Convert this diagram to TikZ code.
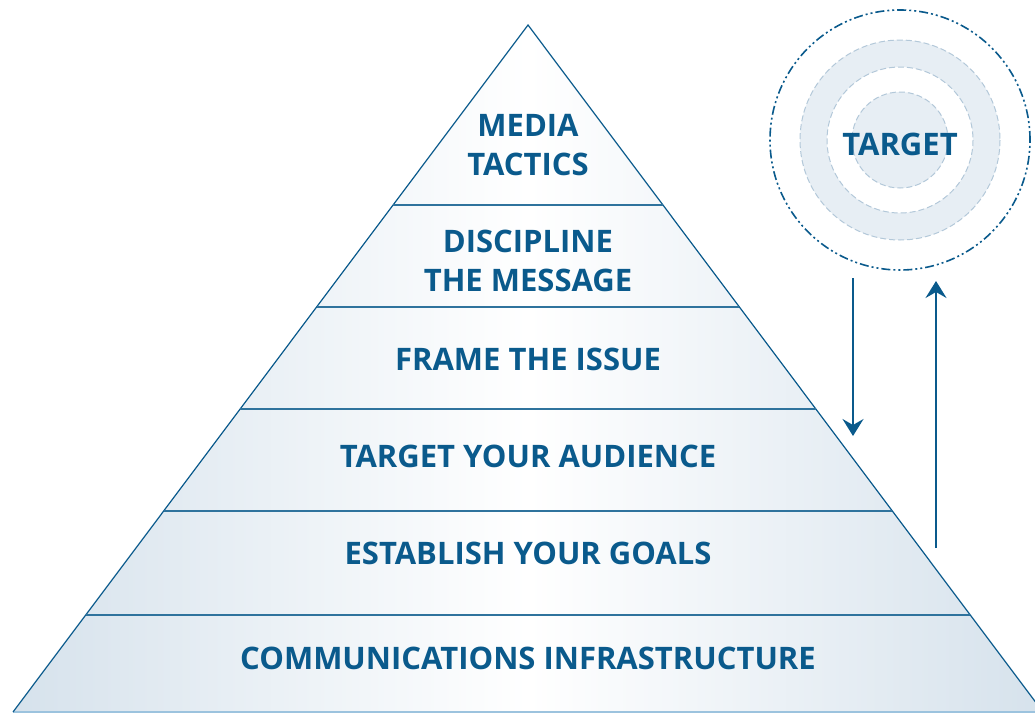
\documentclass[tikz,border=0pt]{standalone}
\usepackage{fontspec}
\setmainfont{Open Sans}
\usetikzlibrary{positioning}
\usetikzlibrary{calc}
\usetikzlibrary{arrows.meta}
\definecolor{tierblue}{HTML}{0A5A8C}
\definecolor{tierfill}{HTML}{D6E2EC}
\definecolor{ringfill}{HTML}{E7EEF4}
\definecolor{ringedge}{HTML}{B3C8D9}
\definecolor{footline}{HTML}{9CC3DE}
\tikzset{
    % Bold capitals used for every label
    tier label/.style={font=\bfseries\fontsize{31}{38.5}\selectfont,
        text=tierblue, align=center, inner sep=0pt},
%
    % The thin outline of the pyramid
    pyramid edge/.style={draw=tierblue, line width=1.2pt, line join=miter},
%
    % Separator between two tiers
    tier line/.style={draw=tierblue!85, line width=2pt},
%
    % Dash-dot outline of the target
    target edge/.style={draw=tierblue, line width=1.6pt,
        dash pattern=on 9pt off 3pt on 2pt off 3pt on 2pt off 3pt},
%
    % Soft dashed rings inside the target
    ring edge/.style={draw=ringedge, line width=1pt,
        dash pattern=on 6pt off 3pt},
%
    % Feedback arrows, with a broad stealth head
    flow/.style={draw=tierblue, line width=2pt,
        -{Stealth[length=17pt, width=21pt, inset=6pt]}}}

\begin{document}
\begin{tikzpicture}[x=1pt, y=-1pt]

\useasboundingbox (0,0) rectangle (1035,715);
\clip (0,0) rectangle (1035,715);

\coordinate (apex) at (528,25);
\coordinate (bl) at (13,712);
\coordinate (br) at (1043,712);

% pyramid body
\shade [left color=tierfill, right color=tierfill, middle color=white]
    (apex) -- (bl) -- (br) -- cycle;
\draw [footline, line width=1.5pt] (bl) -- (br);
\draw [pyramid edge] (bl) -- (apex) -- (br);

% tier separators
\foreach \y in {205,307,409,511,615}
    \draw [tier line] ($(apex)!{(\y-25)/687}!(bl)$) -- ($(apex)!{(\y-25)/687}!(br)$);

\node (tactics) [tier label] at (528,145) {MEDIA\\TACTICS};
\node (message) [tier label] at (528,261) {DISCIPLINE\\THE MESSAGE};
\node (frame) [tier label] at (528,359) {FRAME THE ISSUE};
\node (audience) [tier label] at (528,456) {TARGET YOUR AUDIENCE};
\node (goals) [tier label] at (528,553) {ESTABLISH YOUR GOALS};
\node (infra) [tier label] at (528,658) {COMMUNICATIONS INFRASTRUCTURE};

% target rings
\fill [ringfill, even odd rule] (900,140) circle (100) circle (73);
\fill [ringfill] (900,140) circle (48);
\draw [ring edge] (900,140) circle (100);
\draw [ring edge] (900,140) circle (73);
\draw [ring edge] (900,140) circle (48);
\node (target) [draw, circle, target edge, minimum size=260pt, inner sep=0pt]
    at (900,140) {};
\node (bullseye) [tier label] at (900,144) {TARGET};

% feedback loop
\coordinate (down start) at (853,278);
\coordinate (down end) at (853,436);
\coordinate (up start) at (936,548);
\coordinate (up end) at (936,281);
\draw [flow] (down start) -- (down end);
\draw [flow] (up start) -- (up end);

\end{tikzpicture}
\end{document}
